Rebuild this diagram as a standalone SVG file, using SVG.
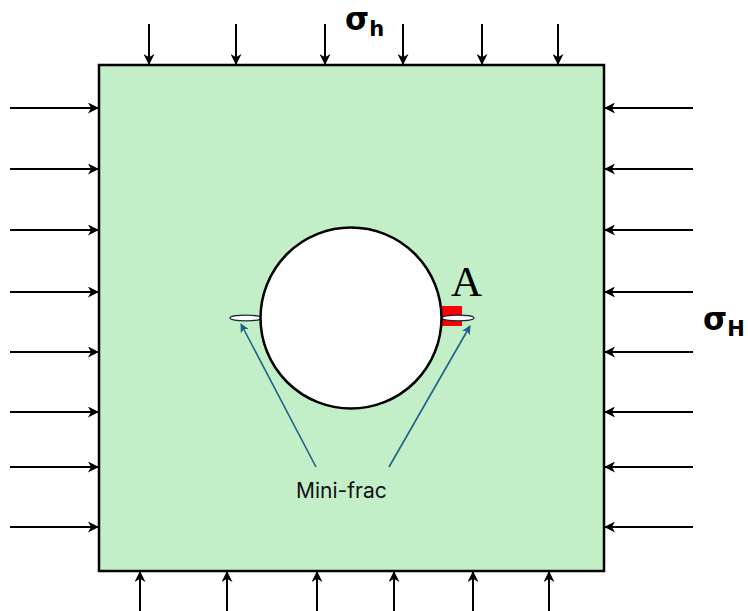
<svg xmlns="http://www.w3.org/2000/svg" width="748" height="611" viewBox="0 0 748 611">
<style>
.ar{stroke:#000;stroke-width:2;fill:none;marker-end:url(#ah)}
.bl{stroke:#1f5f8b;stroke-width:1.6;fill:none;marker-end:url(#bh)}
.sig{font-family:"DejaVu Sans","Liberation Sans",sans-serif;font-weight:bold;fill:#000}
</style>
<defs>
<marker id="ah" viewBox="0 0 12 12" refX="11" refY="6" markerWidth="12" markerHeight="11" markerUnits="userSpaceOnUse" orient="auto">
<path d="M0,0 L12,6 L0,12 L3.5,6 Z" fill="#000"/>
</marker>
<marker id="bh" viewBox="0 0 10 10" refX="9" refY="5" markerWidth="9" markerHeight="9" markerUnits="userSpaceOnUse" orient="auto">
<path d="M0,0 L10,5 L0,10 L2.5,5 Z" fill="#1f5f8b"/>
</marker>
</defs>
<rect width="748" height="611" fill="#fff"/>
<g id="block">
<rect x="99" y="65" width="505" height="506" fill="#c3efc8" stroke="#000" stroke-width="2.5"/>
</g>
<g id="pointA">
<rect x="442" y="306" width="20" height="20" fill="#ff0000"/>
<text x="451" y="296" font-family="Liberation Serif,serif" font-size="43">A</text>
</g>
<g id="hole">
<ellipse cx="246" cy="318" rx="16" ry="2.8" fill="#fff" stroke="#1a2a3a" stroke-width="1.2"/>
<ellipse cx="458" cy="318" rx="16" ry="2.8" fill="#fff" stroke="#1a2a3a" stroke-width="1.2"/>
<circle cx="351" cy="318" r="90.5" fill="#fff" stroke="#000" stroke-width="2.5"/>
</g>
<g id="labels">
<text class="sig" x="345" y="30" font-size="31">σ<tspan font-size="21" dy="6">h</tspan></text>
<text class="sig" x="703" y="330" font-size="31">σ<tspan font-size="21" dy="6">H</tspan></text>
<text x="296" y="498" font-family="Inter,'Noto Sans',sans-serif" font-size="21" fill="#111">Mini-frac</text>
</g>
<g id="connectors">
<path class="ar" d="M149,24V64"/><path class="ar" d="M236,24V64"/><path class="ar" d="M325,24V64"/><path class="ar" d="M403,24V64"/><path class="ar" d="M482,24V64"/><path class="ar" d="M558,24V64"/>
<path class="ar" d="M140,611V572"/><path class="ar" d="M227,611V572"/><path class="ar" d="M317,611V572"/><path class="ar" d="M394,611V572"/><path class="ar" d="M473,611V572"/><path class="ar" d="M549,611V572"/>
<path class="ar" d="M10,108H98"/><path class="ar" d="M10,169H98"/><path class="ar" d="M10,230H98"/><path class="ar" d="M10,292H98"/><path class="ar" d="M10,352H98"/><path class="ar" d="M10,412H98"/><path class="ar" d="M10,467H98"/><path class="ar" d="M10,527H98"/>
<path class="ar" d="M693,108H605"/><path class="ar" d="M693,169H605"/><path class="ar" d="M693,230H605"/><path class="ar" d="M693,292H605"/><path class="ar" d="M693,352H605"/><path class="ar" d="M693,412H605"/><path class="ar" d="M693,467H605"/><path class="ar" d="M693,527H605"/>
<path class="bl" d="M316,467L241,324"/>
<path class="bl" d="M389,467L470,326"/>
</g>
</svg>
